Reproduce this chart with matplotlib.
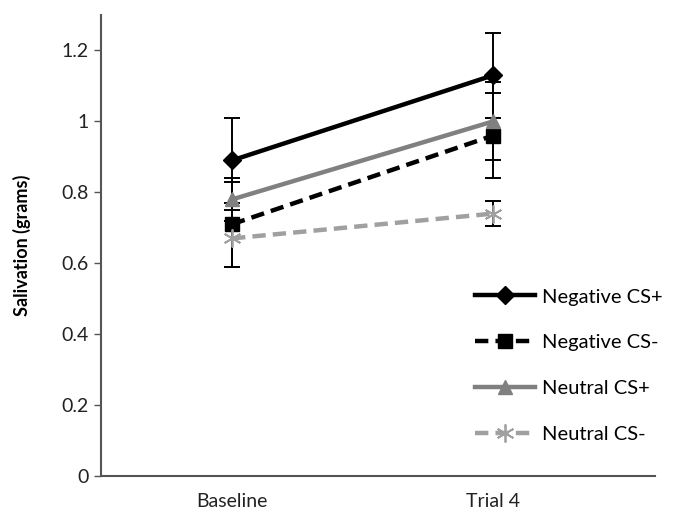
import matplotlib
matplotlib.use("Agg")
import matplotlib.pyplot as plt

plt.rcParams['font.family'] = ['Lato', 'DejaVu Sans']

categories = ["Baseline", "Trial 4"]
neg_cs_plus = [0.89, 1.13]
neg_cs_plus_err = [0.12, 0.12]
neg_cs_minus = [0.71, 0.96]
neg_cs_minus_err = [0.12, 0.12]
neu_cs_plus = [0.78, 1.00]
neu_cs_plus_err = [0.06, 0.11]
neu_cs_minus = [0.67, 0.74]
neu_cs_minus_err = [0.08, 0.035]
labels = ["Negative CS+", "Negative CS-", "Neutral CS+", "Neutral CS-"]
yticks = [0, 0.2, 0.4, 0.6, 0.8, 1.0, 1.2]
ytick_labels = ["0", "0.2", "0.4", "0.6", "0.8", "1", "1.2"]

fig = plt.figure(figsize=(6.79, 5.19), dpi=100)
ax = fig.add_axes([101/679, 1-476/519, (655-101)/679, (476-15)/519])

x = list(range(len(categories)))
series = [
    (neg_cs_plus, neg_cs_plus_err, dict(color='black', ls='-', marker='D', ms=9, mfc='black', mec='black')),
    (neg_cs_minus, neg_cs_minus_err, dict(color='black', ls=(0, (3, 1.6)), marker='s', ms=10, mfc='black', mec='black')),
    (neu_cs_plus, neu_cs_plus_err, dict(color='#808080', ls='-', marker='^', ms=10, mfc='#808080', mec='#808080')),
    (neu_cs_minus, neu_cs_minus_err, dict(color='#a0a0a0', ls=(0, (3, 1.6)), marker=(6, 2, 0), ms=13, mfc='#a0a0a0', mec='#a0a0a0', mew=1.3)),
]
handles = []
for (vals, errs, st), lab in zip(series, labels):
    ax.errorbar(x, vals, yerr=errs, fmt='none', ecolor='black', elinewidth=1.4, capsize=5.5, capthick=1.4, zorder=2)
    h, = ax.plot(x, vals, lw=3.2, label=lab, zorder=3, **st)
    handles.append(h)

ax.set_xlim(-0.502, 1.62)
ax.set_ylim(0, 1.3)
ax.set_xticks(x)
ax.set_xticklabels(categories, fontsize=14, color='#222222')
ax.set_yticks(yticks)
ax.set_yticklabels(ytick_labels, fontsize=14, color='#222222')
ax.tick_params(axis='x', length=0, pad=12)
ax.tick_params(axis='y', length=5, width=1, color='#555555', pad=4)
for s in ['top', 'right']:
    ax.spines[s].set_visible(False)
for s in ['left', 'bottom']:
    ax.spines[s].set_color('#555555')
    ax.spines[s].set_linewidth(1.5)
ax.set_ylabel("Salivation (grams)", fontsize=13, fontweight='bold', labelpad=22)

ax.legend(handles=handles, loc='lower left', bbox_to_anchor=(0.66, 0.055), frameon=False,
          fontsize=14.5, handlelength=3.0, labelspacing=1.42, handletextpad=0.35, borderaxespad=0)

fig.savefig("out.png", dpi=100)
